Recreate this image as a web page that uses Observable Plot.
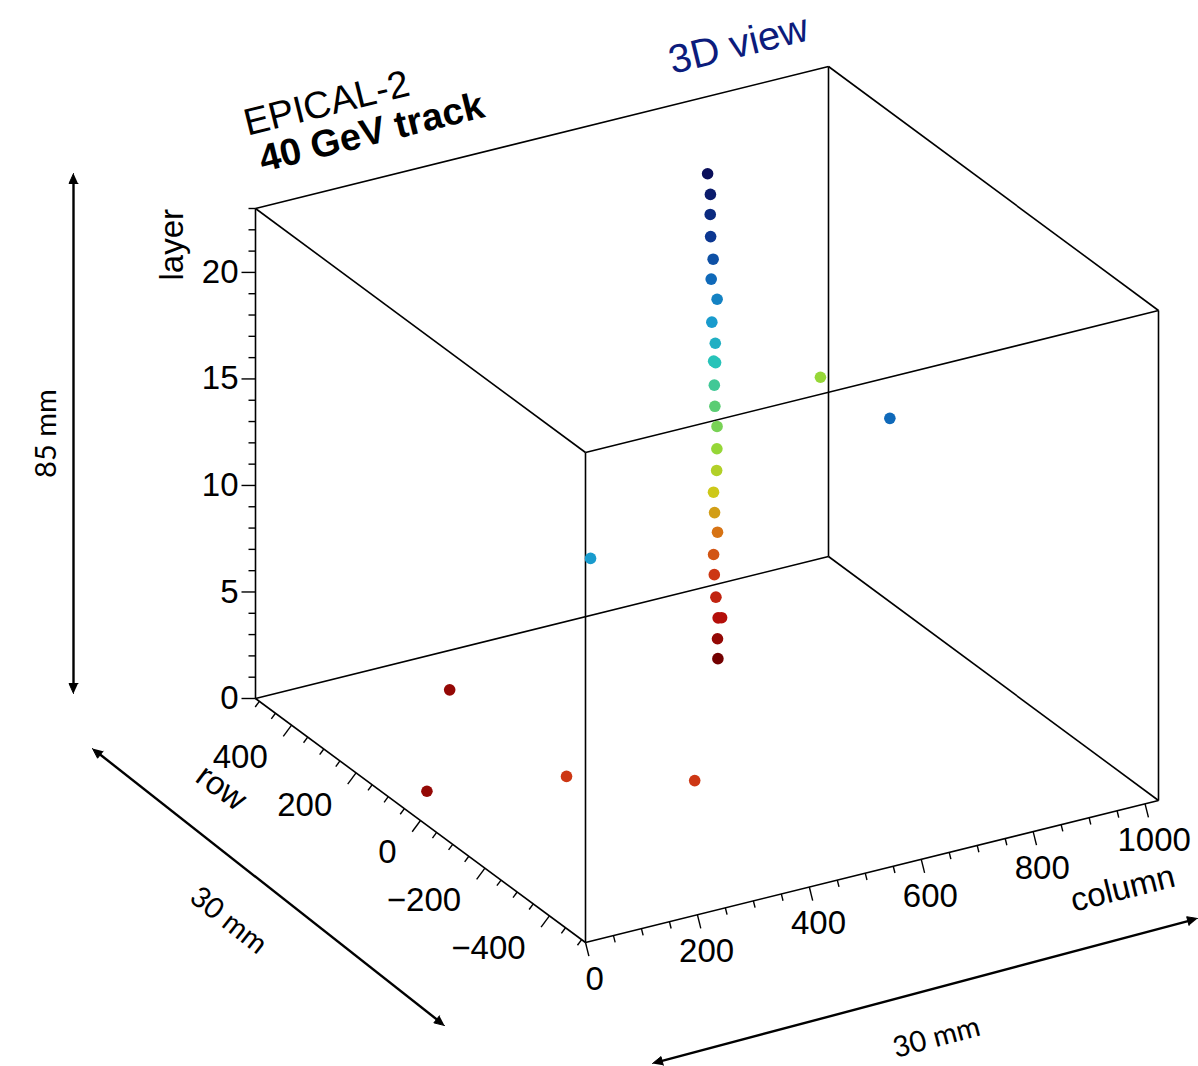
<!DOCTYPE html>
<html>
<head>
<meta charset="utf-8">
<script src="https://cdn.jsdelivr.net/npm/d3@7"></script>
<script src="https://cdn.jsdelivr.net/npm/@observablehq/plot@0.6"></script>
<style>
  html, body { margin: 0; padding: 0; background: #fff; }
  #chart svg { display: block; }
</style>
</head>
<body>
<div id="chart"></div>
<script>
// Pixel hits of one 40 GeV track in EPICAL-2 (layer, column, row per hit)
const hitLayer  = [0, 1, 2, 2, 3, 4, 5, 6, 7, 8, 9, 10, 11, 12, 13, 14, 14, 15, 16, 17, 18, 19, 20, 21, 22, 23,
                   18, 10, 16, 1, 1, 4, 4];
const hitColumn = [691, 688, 688, 693, 684, 684, 681, 688, 681, 678, 683, 684, 686, 681, 680, 684, 684, 680, 675, 685, 675, 675, 674, 675, 673, 668,
                   662, 952, 85, 237, 23, 121, 285];
const hitRow    = [277, 273, 271, 269, 271, 276, 273, 273, 270, 268, 267, 268, 271, 269, 269, 272, 278, 266, 268, 269, 270, 264, 270, 273, 269, 269,
                   -307, 412, -380, 321, 20, -243, -356];

// Detector extent
const columnRange = [0, 1024];
const rowRange = [-512, 512];
const layerRange = [0, 23];

// Tick values (major ticks every 200 pixels / 5 layers)
const columnTicks = d3.range(0, 1001, 50);
const rowTicks = d3.range(-500, 501, 50);
const layerTicks = d3.range(0, 24, 1);

// Layer palette stops
const paletteLayers = [0, 2, 4, 6, 8, 10, 12, 14, 16, 18, 20, 23];
const paletteColors = ["#730000", "#b40f0a", "#cd3714", "#d77314", "#cdc819", "#96d737",
                       "#5acd73", "#28c3b9", "#199bcd", "#0f69b9", "#0c3791", "#0a0f5a"];

// ---------------------------------------------------------------------------
const W = 1198, H = 1066;

// Oblique projection: screen point of (column min, row min, layer min) and
// the screen vectors spanning each detector axis.
const origin = [585, 942];
const spanColumn = [573, -142];
const spanRow = [-330, -244];
const spanLayer = [0, -490];

const toU = d3.scaleLinear(columnRange, [0, 1]);
const toV = d3.scaleLinear(rowRange, [0, 1]);
const toW = d3.scaleLinear(layerRange, [0, 1]);

function project(c, r, l) {
  const u = toU(c), v = toV(r), w = toW(l);
  return [
    origin[0] + u * spanColumn[0] + v * spanRow[0] + w * spanLayer[0],
    origin[1] + u * spanColumn[1] + v * spanRow[1] + w * spanLayer[1]
  ];
}

const hits = hitLayer.map((layer, i) => {
  const [sx, sy] = project(hitColumn[i], hitRow[i], layer);
  return {layer, column: hitColumn[i], row: hitRow[i], sx, sy};
});

// The twelve edges of the detector box
const corners = [];
for (const c of columnRange) for (const r of rowRange) for (const l of layerRange) corners.push([c, r, l]);
const edges = [];
for (let i = 0; i < corners.length; i++) {
  for (let j = i + 1; j < corners.length; j++) {
    const differing = [0, 1, 2].filter(k => corners[i][k] !== corners[j][k]).length;
    if (differing === 1) {
      const a = project(...corners[i]), b = project(...corners[j]);
      edges.push({x1: a[0], y1: a[1], x2: b[0], y2: b[1]});
    }
  }
}

// Axes drawn along three box edges
const unit = v => { const n = Math.hypot(v[0], v[1]); return [v[0] / n, v[1] / n]; };
const colDir = unit(spanColumn);
const colNormal = [-colDir[1], colDir[0]];
const rowDir = unit(spanRow);
const rowNormal = [rowDir[1], -rowDir[0]];
const layerNormal = [-1, 0];
const angleOf = v => Math.atan2(v[1], v[0]) * 180 / Math.PI;

function buildAxis(values, majorStep, at, normal, labelGap) {
  return values.map(value => {
    const [x, y] = at(value);
    const major = value % majorStep === 0;
    const len = major ? 14 : 7;
    return {
      value, major,
      x1: x, y1: y, x2: x + normal[0] * len, y2: y + normal[1] * len,
      lx: x + normal[0] * labelGap, ly: y + normal[1] * labelGap
    };
  });
}
const columnAxis = buildAxis(columnTicks, 200, c => project(c, rowRange[0], layerRange[0]), colNormal, 38);
const rowAxis = buildAxis(rowTicks, 200, r => project(columnRange[0], r, layerRange[0]), rowNormal, 40);
const layerAxis = buildAxis(layerTicks, 5, l => project(columnRange[0], rowRange[1], l), layerNormal, 17);
const fmt = d3.format("d");

function axisTitle(text, point, normal, gap, rotate) {
  return {text, x: point[0] + normal[0] * gap, y: point[1] + normal[1] * gap, rotate};
}
const axisTitles = [
  axisTitle("column", project(927, rowRange[0], layerRange[0]), colNormal, 77, angleOf(spanColumn)),
  axisTitle("row", project(columnRange[0], 448, layerRange[0]), rowNormal, 92, angleOf([-spanRow[0], -spanRow[1]])),
  axisTitle("layer", project(columnRange[0], rowRange[1], 21.3), layerNormal, 83, -90)
];

// Physical-size indicators beside the box
const dimensions = [
  {label: "85 mm", from: [73, 173], to: [73, 693], at: [46, 433]},
  {label: "30 mm", from: [92, 748], to: [444, 1025], at: [228, 920]},
  {label: "30 mm", from: [1197, 918], to: [652, 1063], at: [936, 1037]}
];
const headLen = 10, headHalf = 4.5;
const shafts = [], heads = [], dimLabels = [];
dimensions.forEach((d, k) => {
  const dir = unit([d.to[0] - d.from[0], d.to[1] - d.from[1]]);
  const nrm = [-dir[1], dir[0]];
  shafts.push({
    x1: d.from[0] + dir[0] * headLen * 0.6, y1: d.from[1] + dir[1] * headLen * 0.6,
    x2: d.to[0] - dir[0] * headLen * 0.6, y2: d.to[1] - dir[1] * headLen * 0.6
  });
  [[d.from, -1], [d.to, 1]].forEach(([tip, s], e) => {
    const bx = tip[0] - s * dir[0] * headLen, by = tip[1] - s * dir[1] * headLen;
    const id = `${k}-${e}`;
    heads.push({id, x: tip[0], y: tip[1]});
    heads.push({id, x: bx + nrm[0] * headHalf, y: by + nrm[1] * headHalf});
    heads.push({id, x: bx - nrm[0] * headHalf, y: by - nrm[1] * headHalf});
  });
  let a = angleOf(dir);
  if (a >= 90) a -= 180;
  if (a < -90) a += 180;
  dimLabels.push({text: d.label, x: d.at[0], y: d.at[1], rotate: a});
});

// Titles, written along the column direction
const titleAngle = angleOf(spanColumn);
const titles = [
  {text: "EPICAL-2", x: 326, y: 103, size: 38, weight: "normal", color: "#000"},
  {text: "40 GeV track", x: 371, y: 132, size: 38, weight: "bold", color: "#000"},
  {text: "3D view", x: 738, y: 44, size: 40, weight: "normal", color: "#0c1c7c"}
];

const sans = "'Liberation Sans', Arial, Helvetica, sans-serif";
const chart = Plot.plot({
  width: W,
  height: H,
  margin: 0,
  x: {domain: [0, W], range: [0, W], axis: null},
  y: {domain: [0, H], range: [0, H], axis: null},
  color: {type: "linear", domain: paletteLayers, range: paletteColors, interpolate: "rgb"},
  style: {fontFamily: sans, background: "#fff"},
  marks: [
    Plot.link(edges, {x1: "x1", y1: "y1", x2: "x2", y2: "y2", stroke: "#000", strokeWidth: 1.6}),
    ...[columnAxis, rowAxis, layerAxis].map(ax =>
      Plot.link(ax, {x1: "x1", y1: "y1", x2: "x2", y2: "y2", stroke: "#000", strokeWidth: 1.4})),
    Plot.text(columnAxis.filter(d => d.major), {x: "lx", y: "ly", text: d => fmt(d.value), textAnchor: "middle", fontSize: 33, fill: "#000"}),
    Plot.text(rowAxis.filter(d => d.major), {x: "lx", y: "ly", text: d => fmt(d.value), textAnchor: "end", fontSize: 33, fill: "#000"}),
    Plot.text(layerAxis.filter(d => d.major), {x: "lx", y: "ly", text: d => fmt(d.value), textAnchor: "end", fontSize: 33, fill: "#000"}),
    ...axisTitles.map(t => Plot.text([t], {x: "x", y: "y", text: "text", rotate: t.rotate, fontSize: 33, fill: "#000"})),
    Plot.dot(hits, {x: "sx", y: "sy", r: 5.8, fill: "layer", stroke: null}),
    Plot.link(shafts, {x1: "x1", y1: "y1", x2: "x2", y2: "y2", stroke: "#000", strokeWidth: 2.4}),
    Plot.line(heads, {x: "x", y: "y", z: "id", fill: "#000", stroke: "#000", strokeWidth: 1}),
    ...dimLabels.map(t => Plot.text([t], {x: "x", y: "y", text: "text", rotate: t.rotate, fontSize: 29, fontFamily: "Lato, 'Open Sans', sans-serif", fill: "#000"})),
    ...titles.map(t => Plot.text([t], {x: "x", y: "y", text: "text", rotate: titleAngle, fontSize: t.size, fontWeight: t.weight, fill: t.color}))
  ]
});
document.getElementById("chart").append(chart);
</script>
</body>
</html>
